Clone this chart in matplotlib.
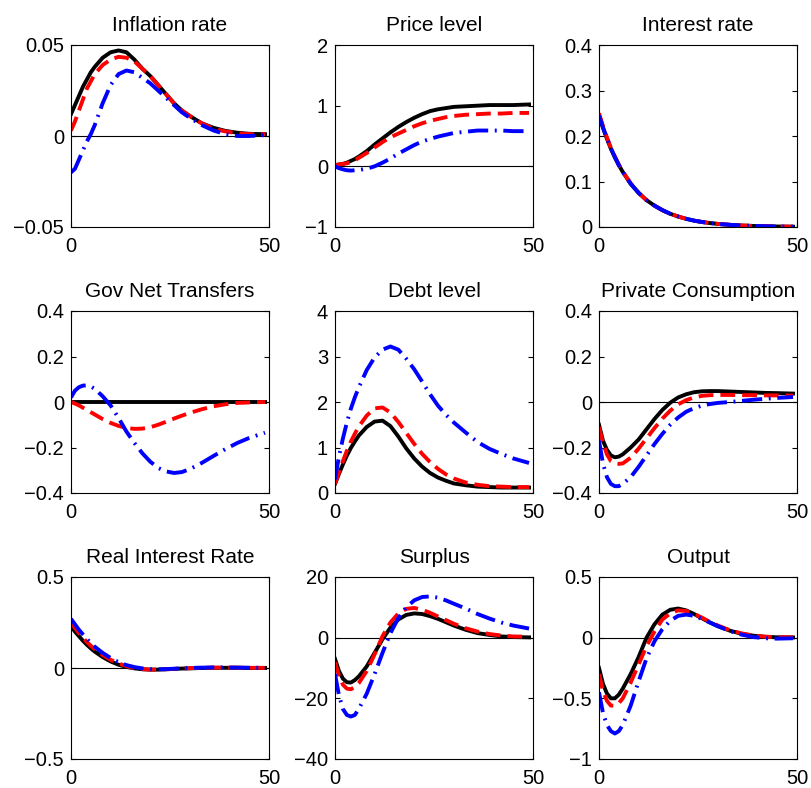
import numpy as np
import matplotlib
matplotlib.use("Agg")
import matplotlib.pyplot as plt

# ---- Data ---- #
periods = [0, 1, 2, 3, 4, 5, 6, 8, 10, 12, 14, 16, 18, 20, 22, 24, 26, 28, 30, 33, 36, 39, 42, 45, 49]

titles = ["Inflation rate", "Price level", "Interest rate",
          "Gov Net Transfers", "Debt level", "Private Consumption",
          "Real Interest Rate", "Surplus", "Output"]

infl_black = [0.012, 0.017, 0.022, 0.027, 0.031, 0.035, 0.038, 0.043, 0.046, 0.047, 0.046, 0.042, 0.037,
              0.033, 0.028, 0.023, 0.018, 0.014, 0.011, 0.007, 0.0045, 0.0028, 0.0018, 0.0012, 0.001]
infl_red = [0.003, 0.008, 0.014, 0.020, 0.026, 0.030, 0.034, 0.039, 0.042, 0.0435, 0.043, 0.041, 0.037,
            0.033, 0.028, 0.023, 0.018, 0.014, 0.011, 0.007, 0.004, 0.0025, 0.0015, 0.001, 0.001]
infl_blue = [-0.02, -0.018, -0.013, -0.008, -0.003, 0.001, 0.006, 0.018, 0.028, 0.034, 0.036, 0.035, 0.032,
             0.029, 0.025, 0.021, 0.017, 0.013, 0.010, 0.006, 0.003, 0.001, 0.0, 0.0, 0.0005]

price_black = [0.02, 0.03, 0.04, 0.06, 0.09, 0.12, 0.16, 0.25, 0.36, 0.46, 0.56, 0.65, 0.73,
               0.80, 0.86, 0.91, 0.94, 0.96, 0.98, 0.99, 1.0, 1.01, 1.01, 1.01, 1.02]
price_red = [0.02, 0.03, 0.04, 0.05, 0.07, 0.10, 0.14, 0.22, 0.31, 0.40, 0.48, 0.54, 0.60,
             0.66, 0.71, 0.75, 0.78, 0.81, 0.83, 0.85, 0.86, 0.87, 0.87, 0.88, 0.88]
price_blue = [0.0, -0.03, -0.05, -0.065, -0.07, -0.065, -0.06, -0.04, 0.0, 0.06, 0.13, 0.21, 0.28,
              0.35, 0.41, 0.45, 0.49, 0.52, 0.55, 0.57, 0.59, 0.59, 0.59, 0.58, 0.58]

rate_black = [0.245, 0.218, 0.194, 0.172, 0.153, 0.136, 0.121, 0.095, 0.075, 0.059, 0.047, 0.037, 0.029,
              0.023, 0.018, 0.014, 0.011, 0.0087, 0.0068, 0.0048, 0.0033, 0.0023, 0.0016, 0.0011, 0.0007]
rate_red = [0.25, 0.222, 0.197, 0.174, 0.155, 0.137, 0.122, 0.096, 0.075, 0.059, 0.047, 0.037, 0.029,
            0.023, 0.018, 0.014, 0.011, 0.0087, 0.0068, 0.0048, 0.0033, 0.0023, 0.0016, 0.0011, 0.0007]
rate_blue = [0.245, 0.219, 0.195, 0.173, 0.154, 0.136, 0.121, 0.095, 0.075, 0.059, 0.047, 0.037, 0.029,
             0.023, 0.018, 0.014, 0.011, 0.0087, 0.0068, 0.0048, 0.0033, 0.0023, 0.0016, 0.0011, 0.0007]

trans_black = [0.0] * 25
trans_red = [0.0, -0.007, -0.015, -0.025, -0.035, -0.045, -0.055, -0.075, -0.092, -0.105, -0.114, -0.118, -0.117,
             -0.111, -0.100, -0.087, -0.073, -0.060, -0.048, -0.032, -0.019, -0.010, -0.004, -0.002, 0.0]
trans_blue = [0.02, 0.05, 0.065, 0.072, 0.073, 0.068, 0.058, 0.025, -0.015, -0.07, -0.13, -0.18, -0.225,
              -0.262, -0.29, -0.305, -0.312, -0.308, -0.295, -0.268, -0.237, -0.207, -0.18, -0.158, -0.135]

debt_black = [0.2, 0.42, 0.63, 0.82, 0.99, 1.13, 1.26, 1.45, 1.57, 1.59, 1.47, 1.24, 0.98,
              0.76, 0.58, 0.44, 0.34, 0.27, 0.21, 0.17, 0.14, 0.13, 0.12, 0.12, 0.12]
debt_red = [0.2, 0.45, 0.7, 0.93, 1.13, 1.3, 1.46, 1.7, 1.86, 1.88, 1.77, 1.56, 1.32,
            1.08, 0.86, 0.68, 0.53, 0.41, 0.32, 0.23, 0.18, 0.15, 0.14, 0.13, 0.13]
debt_blue = [0.3, 0.8, 1.2, 1.55, 1.85, 2.1, 2.32, 2.7, 2.98, 3.15, 3.22, 3.15, 2.95,
             2.72, 2.45, 2.17, 1.92, 1.72, 1.55, 1.33, 1.12, 0.97, 0.86, 0.76, 0.66]

cons_black = [-0.1, -0.17, -0.21, -0.235, -0.243, -0.24, -0.23, -0.2, -0.165, -0.12, -0.075, -0.035, -0.003,
              0.02, 0.034, 0.043, 0.047, 0.048, 0.048, 0.046, 0.044, 0.042, 0.04, 0.039, 0.037]
cons_red = [-0.11, -0.18, -0.23, -0.26, -0.27, -0.272, -0.27, -0.245, -0.205, -0.16, -0.115, -0.073, -0.038,
            -0.01, 0.008, 0.02, 0.027, 0.03, 0.031, 0.031, 0.03, 0.03, 0.029, 0.029, 0.028]
cons_blue = [-0.17, -0.27, -0.33, -0.36, -0.37, -0.37, -0.36, -0.33, -0.285, -0.235, -0.185, -0.14, -0.1,
             -0.068, -0.043, -0.027, -0.016, -0.009, -0.004, 0.0, 0.005, 0.01, 0.014, 0.018, 0.022]

real_black = [0.23, 0.2, 0.175, 0.15, 0.128, 0.108, 0.09, 0.06, 0.036, 0.018, 0.006, -0.002, -0.007,
              -0.009, -0.009, -0.007, -0.005, -0.003, -0.002, 0.0, 0.001, 0.001, 0.001, 0.0, 0.0]
real_red = [0.25, 0.22, 0.192, 0.167, 0.143, 0.122, 0.103, 0.071, 0.045, 0.025, 0.01, 0.0, -0.006,
            -0.009, -0.009, -0.007, -0.005, -0.003, -0.001, 0.001, 0.002, 0.002, 0.002, 0.001, 0.001]
real_blue = [0.27, 0.24, 0.21, 0.185, 0.16, 0.137, 0.117, 0.083, 0.055, 0.032, 0.016, 0.005, -0.002,
             -0.006, -0.007, -0.006, -0.004, -0.002, 0.0, 0.002, 0.003, 0.003, 0.002, 0.002, 0.001]

surp_black = [-7, -11, -13.5, -14.7, -14.8, -14, -12.8, -9.5, -5, -0.5, 3.3, 6, 7.5,
              8, 7.8, 7.1, 6.2, 5.1, 4.0, 2.6, 1.5, 0.9, 0.4, 0.2, 0.1]
surp_red = [-8, -12.5, -15.5, -16.8, -17, -16.3, -15, -11, -5.5, 0.5, 5, 8, 9.5,
            9.8, 9.2, 8.2, 7.0, 5.8, 4.6, 3.1, 2.0, 1.2, 0.7, 0.4, 0.3]
surp_blue = [-12, -19, -23.5, -25.5, -26, -25.5, -23.5, -18.5, -12, -5, 1.5, 6.5, 10,
             12.3, 13.4, 13.6, 13.2, 12.3, 11.2, 9.6, 7.8, 6.3, 5.0, 4.0, 3.0]

out_black = [-0.25, -0.38, -0.46, -0.5, -0.5, -0.47, -0.42, -0.3, -0.16, 0.0, 0.11, 0.19, 0.23,
             0.24, 0.225, 0.195, 0.16, 0.125, 0.095, 0.058, 0.032, 0.016, 0.007, 0.003, 0.002]
out_red = [-0.3, -0.44, -0.52, -0.56, -0.56, -0.54, -0.5, -0.37, -0.22, -0.07, 0.05, 0.15, 0.2,
           0.225, 0.22, 0.195, 0.165, 0.13, 0.1, 0.062, 0.035, 0.018, 0.008, 0.004, 0.003]
out_blue = [-0.45, -0.62, -0.72, -0.77, -0.79, -0.77, -0.72, -0.56, -0.36, -0.17, -0.03, 0.07, 0.14,
            0.18, 0.19, 0.18, 0.155, 0.125, 0.095, 0.055, 0.025, 0.005, -0.005, -0.008, -0.005]

series = [(infl_black, infl_red, infl_blue), (price_black, price_red, price_blue),
          (rate_black, rate_red, rate_blue), (trans_black, trans_red, trans_blue),
          (debt_black, debt_red, debt_blue), (cons_black, cons_red, cons_blue),
          (real_black, real_red, real_blue), (surp_black, surp_red, surp_blue),
          (out_black, out_red, out_blue)]

yticks = [[-0.05, 0, 0.05], [-1, 0, 1, 2], [0, 0.1, 0.2, 0.3, 0.4],
          [-0.4, -0.2, 0, 0.2, 0.4], [0, 1, 2, 3, 4], [-0.4, -0.2, 0, 0.2, 0.4],
          [-0.5, 0, 0.5], [-40, -20, 0, 20], [-1, -0.5, 0, 0.5]]

# ---- Plot ---- #
plt.rcParams["font.family"] = ["Liberation Sans", "DejaVu Sans"]

fig = plt.figure(figsize=(8.11, 7.88), dpi=100)

lefts = [71, 335, 599]
tops = [45, 311, 577]
w, h = 198, 182

for k in range(9):
    r, c = divmod(k, 3)
    ax = fig.add_axes([lefts[c] / 811, 1 - (tops[r] + h) / 788, w / 811, h / 788])
    blk, red, blu = series[k]
    ax.axhline(0, color="k", lw=0.8)
    ax.plot(periods, blk, color="k", lw=2.8, ls="-")
    ax.plot(periods, red, color="r", lw=2.8, ls=(0, (3.8, 1.8)))
    ax.plot(periods, blu, color="b", lw=2.8, ls=(0, (5.2, 1.7, 0.5, 1.7)))
    ax.set_xlim(0, 50)
    ax.set_ylim(yticks[k][0], yticks[k][-1])
    ax.set_xticks([0, 50])
    ax.set_xticklabels(["0", "50"])
    ax.set_yticks(yticks[k])
    ax.set_yticklabels([f"{v:g}".replace("-", "\u2212") for v in yticks[k]])
    ax.tick_params(direction="in", top=True, right=True, length=3.5, width=0.8,
                   labelsize=14.5)
    ax.tick_params(axis="y", pad=5)
    ax.tick_params(axis="x", pad=7)
    for sp in ax.spines.values():
        sp.set_linewidth(0.8)
    ax.set_title(titles[k], fontsize=15, pad=10)

fig.savefig("out.png", dpi=100)
